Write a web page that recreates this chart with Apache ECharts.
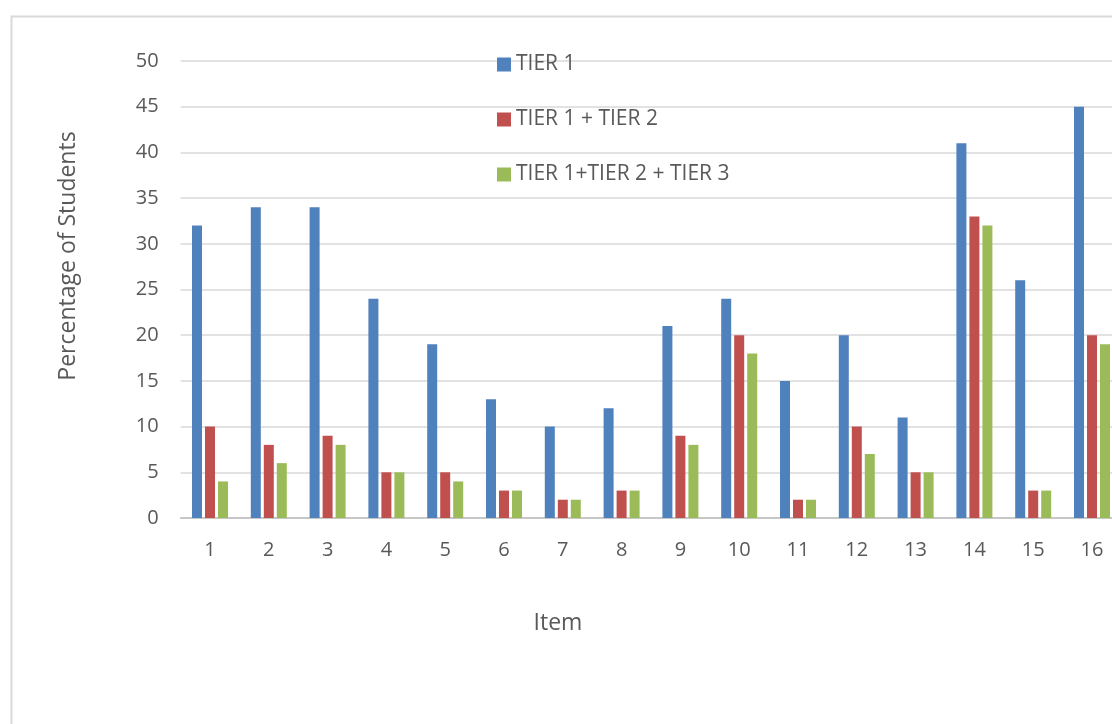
<!DOCTYPE html>
<html>
<head>
<meta charset="utf-8">
<script src="https://cdn.jsdelivr.net/npm/echarts@6/dist/echarts.min.js"></script>
<style>html,body{margin:0;padding:0;background:#fff;overflow:hidden;width:1112px;height:724px;}#c{width:1122px;height:724px;}</style>
</head>
<body>
<div id="c"></div>
<script>
const categories = ['1','2','3','4','5','6','7','8','9','10','11','12','13','14','15','16'];
const tier1 = [32, 34, 34, 24, 19, 13, 10, 12, 21, 24, 15, 20, 11, 41, 26, 45];
const tier12 = [10, 8, 9, 5, 5, 3, 2, 3, 9, 20, 2, 10, 5, 33, 3, 20];
const tier123 = [4, 6, 8, 5, 4, 3, 2, 3, 8, 18, 2, 7, 5, 32, 3, 19];
const seriesNames = ['TIER 1', 'TIER 1 + TIER 2', 'TIER 1+TIER 2 + TIER 3'];
const colors = ['#4F81BD', '#C0504D', '#9BBB59'];
const xTitle = 'Item';
const yTitle = 'Percentage of Students';

const FONT = '"Open Sans", "Noto Sans", sans-serif';
const chart = echarts.init(document.getElementById('c'), null, {renderer: 'canvas'});
const mk = (name, data, color) => ({
  name, type: 'bar', data, barWidth: 10, barGap: '30%',
  itemStyle: {color}
});
chart.setOption({
  animation: false,
  textStyle: {fontFamily: FONT},
  graphic: [{
    type: 'rect', left: 9, top: 14, silent: true,
    shape: {width: 1130, height: 730},
    style: {fill: 'none', stroke: '#d9d9d9', lineWidth: 2}
  }, {
    type: 'text', x: 558, y: 623, silent: true,
    style: {text: xTitle, align: 'center', verticalAlign: 'middle',
      fontSize: 23, fill: '#595959', fontFamily: FONT}
  }, {
    type: 'text', x: 68, y: 256, rotation: Math.PI / 2, silent: true,
    style: {text: yTitle, align: 'center', verticalAlign: 'middle',
      fontSize: 23, fill: '#595959', fontFamily: FONT}
  }],
  legend: {
    orient: 'vertical', left: 497, top: 54, padding: 0,
    itemWidth: 14, itemHeight: 14, itemGap: 34,
    icon: 'rect',
    textStyle: {fontSize: 21, color: '#595959', fontFamily: FONT}
  },
  grid: {left: 180.6, top: 61, bottom: 206, width: 940.8, containLabel: false},
  xAxis: {
    type: 'category', data: categories,
    axisLine: {lineStyle: {color: '#bfbfbf', width: 1.5}},
    axisTick: {show: false},
    axisLabel: {fontSize: 20, color: '#595959', margin: 22, fontFamily: FONT}
  },
  yAxis: {
    type: 'value', min: 0, max: 50, interval: 5,
    axisLine: {show: false}, axisTick: {show: false},
    axisLabel: {fontSize: 20, color: '#595959', margin: 22, fontFamily: FONT},
    splitLine: {lineStyle: {color: '#d9d9d9', width: 1.5}}
  },
  series: [
    mk(seriesNames[0], tier1, colors[0]),
    mk(seriesNames[1], tier12, colors[1]),
    mk(seriesNames[2], tier123, colors[2])
  ]
});
</script>
</body>
</html>
